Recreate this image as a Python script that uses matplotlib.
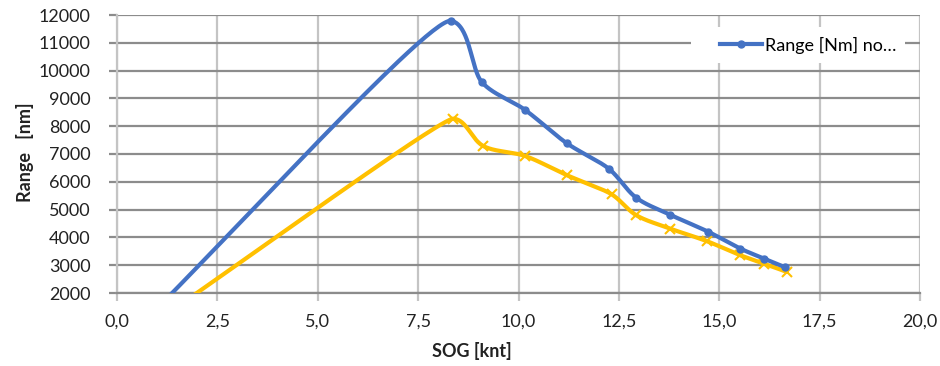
import numpy as np
import matplotlib.pyplot as plt
from matplotlib.lines import Line2D
from matplotlib.patches import Rectangle

plt.rcParams['font.family'] = ['Lato', 'DejaVu Sans']

# speed over ground [knt] and range [nm]
sog_a = [0.0, 8.32, 9.09, 10.15, 11.20, 12.25, 12.93, 13.77, 14.73, 15.52, 16.11, 16.65]
range_a = [0, 11790, 9580, 8600, 7390, 6470, 5430, 4820, 4200, 3600, 3240, 2920]
sog_b = [0.0, 8.38, 9.12, 10.16, 11.20, 12.32, 12.93, 13.77, 14.70, 15.52, 16.11, 16.68]
range_b = [0, 8270, 7290, 6930, 6240, 5550, 4800, 4320, 3860, 3360, 3060, 2760]
legend_label = 'Range [Nm] no…'

xticks = np.arange(0, 20.01, 2.5)
yticks = np.arange(2000, 12001, 1000)


def smooth(x, y, sx=40.15, sy=0.0278, n=60, k=0.33):
    # smoothed line like excel: centripetal catmull-rom in screen pixels,
    # control arms capped by the shorter neighbouring segment
    p = np.column_stack([np.asarray(x) * sx, np.asarray(y) * sy])
    L = np.linalg.norm(np.diff(p, axis=0), axis=1)
    d = np.sqrt(L)

    def cap(v, lim):
        n_ = np.linalg.norm(v)
        return v if n_ <= lim else v * lim / n_

    out = [p[0]]
    for i in range(len(p) - 1):
        if i > 0:
            m1 = ((p[i] - p[i - 1]) / d[i - 1] - (p[i + 1] - p[i - 1]) / (d[i - 1] + d[i])
                  + (p[i + 1] - p[i]) / d[i])
            a1 = cap(m1 * d[i] / 3, k * min(L[i - 1], L[i]))
        else:
            a1 = (p[i + 1] - p[i]) / 3
        if i + 2 < len(p):
            m2 = ((p[i + 1] - p[i]) / d[i] - (p[i + 2] - p[i]) / (d[i] + d[i + 1])
                  + (p[i + 2] - p[i + 1]) / d[i + 1])
            a2 = cap(m2 * d[i] / 3, k * min(L[i], L[i + 1]))
        else:
            a2 = (p[i + 1] - p[i]) / 3
        c1 = p[i] + a1
        c2 = p[i + 1] - a2
        t = np.linspace(0, 1, n)[1:, None]
        seg = ((1 - t) ** 3 * p[i] + 3 * (1 - t) ** 2 * t * c1
               + 3 * (1 - t) * t ** 2 * c2 + t ** 3 * p[i + 1])
        out.extend(seg)
    out = np.array(out)
    return out[:, 0] / sx, out[:, 1] / sy


fig = plt.figure(figsize=(9.4, 3.66), dpi=100)
ax = fig.add_axes([117 / 940, 1 - 293 / 366, 803 / 940, 278 / 366])

blue = '#4472C4'
yellow = '#FFC000'

xs, ys = smooth(sog_b, range_b)
ax.plot(xs, ys, color=yellow, lw=3, solid_capstyle='round', zorder=3)
ax.plot(sog_b[1:], range_b[1:], ls='none', marker='x', ms=7, mew=1.5, color=yellow, zorder=4)

xs, ys = smooth(sog_a, range_a)
ax.plot(xs, ys, color=blue, lw=3, solid_capstyle='round', zorder=5)
ax.plot(sog_a[1:], range_a[1:], ls='none', marker='o', ms=5, color=blue, zorder=6)

ax.set_xlim(0, 20)
ax.set_ylim(2000, 12000)
ax.set_xticks(xticks)
ax.set_yticks(yticks)
ax.set_xticklabels([f'{v:.1f}'.replace('.', ',') for v in xticks], fontsize=13, color='#222222')
ax.set_yticklabels([f'{int(v)}' for v in yticks], fontsize=13, color='#222222')

# gridlines: dark horizontals, light verticals
ax.grid(axis='y', color='#8c8c8c', lw=1.6)
ax.grid(axis='x', color='#c4c4c4', lw=1.6)
ax.set_axisbelow(True)
for s in ['top', 'right']:
    ax.spines[s].set_visible(False)
ax.spines['left'].set_color('#c4c4c4')
ax.spines['left'].set_linewidth(1.6)
ax.spines['bottom'].set_color('#8c8c8c')
ax.spines['bottom'].set_linewidth(1.6)
ax.tick_params(axis='y', length=6, width=1.6, color='#8c8c8c', pad=13)
ax.tick_params(axis='x', length=6, width=1.6, color='#c4c4c4', pad=9)

fig.text(25 / 940, 1 - 152 / 366, 'Range   [nm]', rotation=90, ha='center', va='center',
         fontsize=13, fontweight='bold', color='#222222')
fig.text(472 / 940, 1 - 351 / 366, 'SOG [knt]', ha='center', va='center',
         fontsize=13, fontweight='bold', color='#222222')

# white legend box over the gridlines
ax.add_patch(Rectangle((574 / 803, 230 / 278), 214 / 803, 36 / 278, transform=ax.transAxes,
                       facecolor='white', edgecolor='none', zorder=2))
handle = Line2D([], [], color=blue, lw=3, marker='o', ms=5)
ax.legend([handle], [legend_label], loc='center left', bbox_to_anchor=(603 / 803, 248 / 278),
          frameon=False, fontsize=13, handlelength=2.35, handletextpad=0.12,
          borderpad=0, borderaxespad=0)

fig.savefig('out.png', dpi=100)
